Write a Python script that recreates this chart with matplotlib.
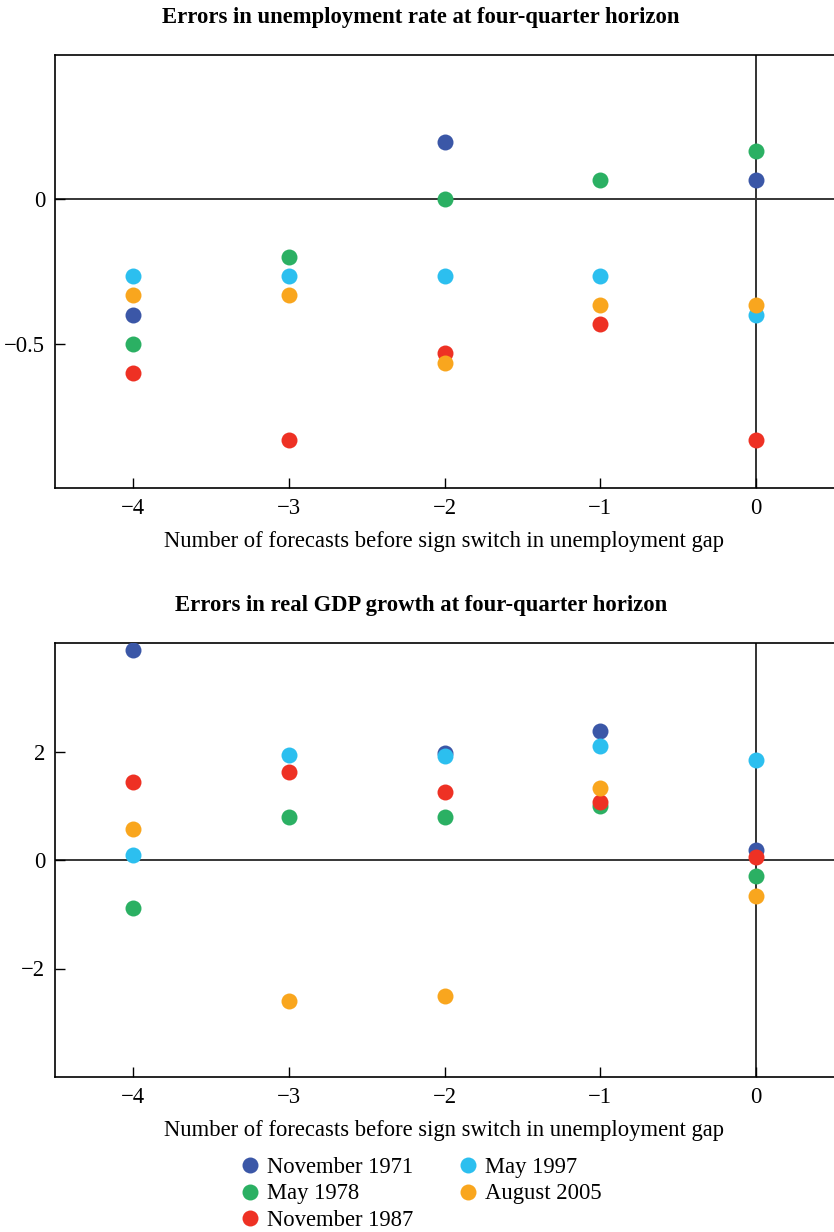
import numpy as np
import matplotlib.pyplot as plt

plt.rcParams['font.family'] = ['Liberation Serif', 'DejaVu Serif']

# Data
x_pos = [-4, -3, -2, -1, 0]
series = ['November 1971', 'May 1978', 'November 1987', 'May 1997', 'August 2005']
colors = ['#3B57A7', '#2BB063', '#EE3124', '#2CBFEF', '#F9A61E']

# unemployment rate errors (None = no point)
unemp_nov1971 = [-0.40, None, 0.20, None, 0.067]
unemp_may1978 = [-0.50, -0.20, 0.0, 0.067, 0.167]
unemp_nov1987 = [-0.60, -0.833, -0.533, -0.433, -0.833]
unemp_may1997 = [-0.267, -0.267, -0.267, -0.267, -0.40]
unemp_aug2005 = [-0.333, -0.333, -0.567, -0.367, -0.367]

# real GDP growth errors
gdp_nov1971 = [3.88, None, 1.98, 2.38, 0.18]
gdp_may1978 = [-0.88, 0.80, 0.80, 0.99, -0.30]
gdp_nov1987 = [1.44, 1.63, 1.25, 1.07, 0.05]
gdp_may1997 = [0.10, 1.93, 1.92, 2.10, 1.85]
gdp_aug2005 = [0.57, -2.60, -2.50, 1.32, -0.66]

unemp = [unemp_nov1971, unemp_may1978, unemp_nov1987, unemp_may1997, unemp_aug2005]
gdp = [gdp_nov1971, gdp_may1978, gdp_nov1987, gdp_may1997, gdp_aug2005]

FS = 16.3
W, H = 834, 1232
fig = plt.figure(figsize=(W / 100, H / 100), dpi=100)

ax1 = fig.add_axes([55 / W, 1 - 488 / H, 1 - 55 / W, 433 / H])
ax2 = fig.add_axes([55 / W, 1 - 1077 / H, 1 - 55 / W, 434 / H])


def draw(ax, data, ylim, yticks, yticklabels):
    ax.axhline(0, color='black', lw=1.1, zorder=1)
    ax.axvline(0, color='#333333', lw=1.4, zorder=1)
    handles = []
    for vals, c, name in zip(data, colors, series):
        xs = [x for x, v in zip(x_pos, vals) if v is not None]
        ys = [v for v in vals if v is not None]
        h, = ax.plot(xs, ys, 'o', color=c, markersize=11.5, markeredgewidth=0,
                     label=name, zorder=3)
        handles.append(h)
    ax.set_xlim(-4.5, 0.5)
    ax.set_ylim(*ylim)
    ax.set_xticks(x_pos)
    ax.set_xticklabels(['\u22124', '\u22123', '\u22122', '\u22121', '0'])
    ax.set_yticks(yticks)
    ax.set_yticklabels(yticklabels)
    ax.tick_params(direction='in', length=7, width=1, labelsize=FS, pad=7)
    ax.spines['right'].set_visible(False)
    for s in ['left', 'top', 'bottom']:
        ax.spines[s].set_linewidth(1.2)
    ax.set_xlabel('Number of forecasts before sign switch in unemployment gap',
                  fontsize=FS, labelpad=9)
    return handles


draw(ax1, unemp, (-1.0, 0.5), [-0.5, 0], ['\u22120.5', '0'])
handles = draw(ax2, gdp, (-4, 4), [-2, 0, 2], ['\u22122', '0', '2'])

fig.text(421 / W, 1 - 18 / H, 'Errors in unemployment rate at four-quarter horizon',
         ha='center', va='center', fontsize=FS, fontweight='bold')
fig.text(421 / W, 1 - 606 / H, 'Errors in real GDP growth at four-quarter horizon',
         ha='center', va='center', fontsize=FS, fontweight='bold')

fig.legend(handles=handles, loc='center', bbox_to_anchor=(420 / W, 1 - 1194 / H),
           ncol=2, frameon=False, fontsize=FS, markerscale=1.0,
           handletextpad=0.25, columnspacing=1.9, labelspacing=0.25,
           handlelength=1.0, borderpad=0)

fig.savefig('out.png', dpi=100)
